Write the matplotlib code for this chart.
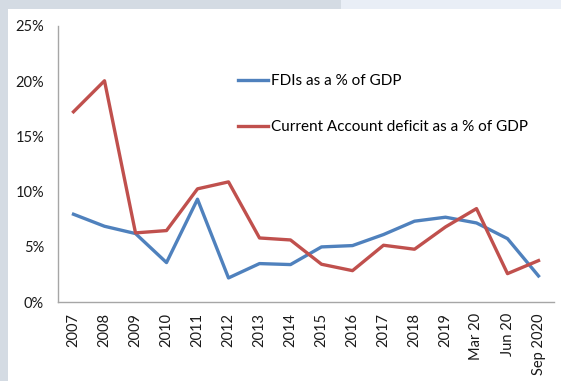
import matplotlib
matplotlib.use("Agg")
import matplotlib.pyplot as plt
from matplotlib.patches import Rectangle
from matplotlib.ticker import PercentFormatter

periods = ["2007", "2008", "2009", "2010", "2011", "2012", "2013", "2014",
           "2015", "2016", "2017", "2018", "2019", "Mar 20", "Jun 20", "Sep 2020"]
fdi_pct = [7.95, 6.86, 6.2, 3.57, 9.31, 2.18, 3.48, 3.39,
           4.99, 5.11, 6.11, 7.32, 7.68, 7.16, 5.74, 2.36]
cad_pct = [17.23, 20.04, 6.26, 6.47, 10.25, 10.88, 5.80, 5.62,
           3.42, 2.84, 5.14, 4.78, 6.80, 8.46, 2.57, 3.75]
y_ticks = [0, 5, 10, 15, 20, 25]

plt.rcParams["font.family"] = ["Lato", "DejaVu Sans"]

fig = plt.figure(figsize=(5.61, 3.81), dpi=100, facecolor="white")

# page framing strips around the chart
fig.add_artist(Rectangle((0, 0), 8 / 561, 1, transform=fig.transFigure,
                         color="#d4dbe3", lw=0, zorder=0))
fig.add_artist(Rectangle((0, 1 - 9 / 381), 341 / 561, 9 / 381,
                         transform=fig.transFigure, color="#d4dbe3", lw=0, zorder=0))
fig.add_artist(Rectangle((341 / 561, 1 - 9 / 381), 220 / 561, 9 / 381,
                         transform=fig.transFigure, color="#e9eef6", lw=0, zorder=0))

ax = fig.add_axes([58 / 561, 79 / 381, 496 / 561, 276 / 381])
x = range(len(periods))
ax.plot(x, fdi_pct, color="#4f81bd", lw=2.4, label="FDIs as a % of GDP")
ax.plot(x, cad_pct, color="#c0504d", lw=2.4,
        label="Current Account deficit as a % of GDP")

ax.set_xlim(-0.5, len(periods) - 0.5)
ax.set_ylim(0, 25)
ax.set_yticks(y_ticks)
ax.yaxis.set_major_formatter(PercentFormatter(decimals=0))
ax.set_xticks(list(x))
ax.set_xticklabels(periods, rotation=90)
ax.tick_params(length=0, labelsize=10.5, colors="#1a1a1a", pad=8)
ax.tick_params(axis="y", pad=10)

for side in ("top", "right"):
    ax.spines[side].set_visible(False)
for side in ("left", "bottom"):
    ax.spines[side].set_color("#a6a6a6")
    ax.spines[side].set_linewidth(1.0)

ax.legend(loc="upper left", bbox_to_anchor=(0.335, 0.875), frameon=False,
          fontsize=11, handlelength=2.0, handletextpad=0.15, labelspacing=2.1)

fig.savefig("out.png", dpi=100, facecolor="white")
